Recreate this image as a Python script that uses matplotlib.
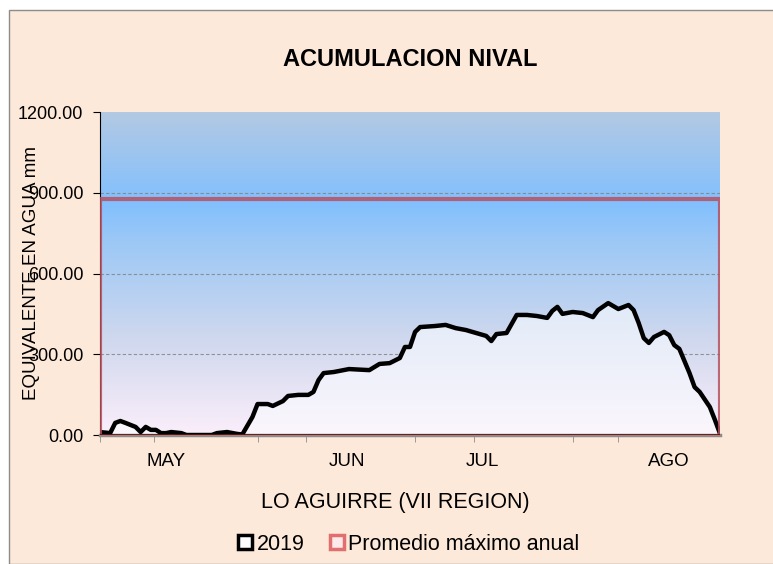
import numpy as np
import matplotlib
matplotlib.use("Agg")
import matplotlib.pyplot as plt
from matplotlib.colors import LinearSegmentedColormap
from matplotlib.patches import Rectangle, Patch

plt.rcParams['font.family'] = ['Liberation Sans', 'DejaVu Sans']

# datos (dia desde 1 de mayo, mm equivalente en agua)
dias = [0, 2, 3, 4, 5, 7, 8, 9, 10, 11, 12, 13, 14, 16, 17, 22, 23, 25, 27, 28,
        30, 31, 33, 34, 36, 37, 39, 41, 42, 43, 44, 46, 49, 53, 55, 57, 59, 60,
        61, 62, 63, 66, 68, 70, 72, 74, 76, 77, 78, 80, 82, 84, 86, 88, 89, 90,
        91, 93, 95, 97, 98, 100, 101, 102, 104, 105, 106, 107, 108, 109, 111,
        112, 113, 114, 116, 117, 118, 120, 121, 122]
swe_2019 = [11, 7, 45, 52, 45, 30, 11, 30, 19, 19, 7, 7, 11, 7, 0, 0, 7, 11, 4, 2,
            67, 115, 115, 108, 126, 145, 149, 149, 160, 204, 230, 234, 245, 241,
            264, 267, 286, 327, 327, 383, 401, 405, 409, 397, 390, 379, 368, 349,
            375, 379, 446, 446, 442, 435, 461, 476, 450, 457, 453, 438, 464, 490,
            479, 468, 483, 464, 416, 360, 342, 364, 383, 371, 334, 320, 230, 178,
            160, 104, 56, 5]
promedio_max = 875
mes_labels = ['MAY', 'JUN', 'JUL', 'AGO']
mes_pos = [13, 48.6, 75.2, 112]
marcas = [0, 31, 62, 93]
marcas_chicas = [10.6, 40.5, 73.6, 101.9]

fig = plt.figure(figsize=(7.73, 5.64), dpi=100, facecolor='white')
fig.patches.append(Rectangle((9 / 773, 0), 1.0, 1 - 10 / 564, transform=fig.transFigure,
                             facecolor='#FDE9D9', edgecolor='#8c8c8c', lw=1, zorder=-5))

ax = fig.add_axes([100 / 773, 129 / 564, 620 / 773, 323 / 564])
ax.set_facecolor('none')
xmax = dias[-1]
ax.set_xlim(0, xmax)
ax.set_ylim(0, 1200)

# fondo degradado
fondo = LinearSegmentedColormap.from_list('fondo', [
    (0.0, '#FBEEFA'), (0.3, '#CFD8EE'), (0.6, '#9CC8F6'),
    (0.72, '#82C0FE'), (1.0, '#B3C9E3')])
grad = np.linspace(0, 1, 256).reshape(-1, 1)
ax.imshow(grad, cmap=fondo, aspect='auto', origin='lower',
          extent=[0, xmax, 0, 1200], zorder=0)

for v in [300, 600, 900]:
    ax.axhline(v, color='#7f7f7f', lw=0.8, ls=(0, (3, 2)), alpha=0.8, zorder=1)

# area 2019 con degradado
relleno = LinearSegmentedColormap.from_list('relleno', ['#FBF6FC', '#E0EAF8'])
poly = ax.fill_between(dias, swe_2019, 0, facecolor='none', edgecolor='none', zorder=2)
img = ax.imshow(np.linspace(0, 1, 256).reshape(-1, 1), cmap=relleno, aspect='auto',
                origin='lower', extent=[0, xmax, 0, 500], zorder=2)
img.set_clip_path(poly.get_paths()[0], transform=ax.transData)
ax.plot(dias, swe_2019, color='black', lw=3.2, solid_joinstyle='round', zorder=3)

# promedio maximo anual
ax.plot([0, 0, xmax, xmax], [0, promedio_max, promedio_max, 0],
        color='#B85060', lw=3, alpha=0.85, zorder=4)
ax.plot([0, xmax], [0, 0], color='#7a0a0a', lw=2, zorder=5)

for s in ['top', 'right']:
    ax.spines[s].set_visible(False)
ax.spines['left'].set_color('black')
ax.spines['bottom'].set_color('#8c8c8c')
ax.spines['bottom'].set_linewidth(2.5)

ax.set_yticks([0, 300, 600, 900, 1200])
ax.set_yticklabels(['%.2f' % v for v in [0, 300, 600, 900, 1200]], fontsize=13)
ax.tick_params(axis='y', length=5, color='black', pad=7)

ax.set_xticks(mes_pos, mes_labels, fontsize=13.5)
ax.tick_params(axis='x', which='major', length=0, pad=13)
ax.set_xticks(marcas + marcas_chicas, minor=True)
ax.tick_params(axis='x', which='minor', length=5, color='#8c8c8c')

ax.set_title('ACUMULACION NIVAL', fontsize=17, fontweight='bold', pad=33)
ax.set_xlabel('LO AGUIRRE (VII REGION)', fontsize=15.5)
ax.xaxis.set_label_coords(0.477, -0.175)
ax.set_ylabel('EQUIVALENTE EN AGUA mm', fontsize=13.5)
ax.yaxis.set_label_coords(-0.097, 0.5)

handles = [Patch(facecolor='white', edgecolor='black', lw=2.5, label='2019'),
           Patch(facecolor='#FDE9E9', edgecolor='#E07070', lw=2.5, label='Promedio máximo anual')]
fig.legend(handles=handles, loc='center', bbox_to_anchor=(0.529, 20 / 564), ncol=2,
           frameon=False, fontsize=15.5, handlelength=0.65, handleheight=0.65,
           handletextpad=0.2, columnspacing=1.2)

fig.savefig('out.png', dpi=100, facecolor=fig.get_facecolor())
